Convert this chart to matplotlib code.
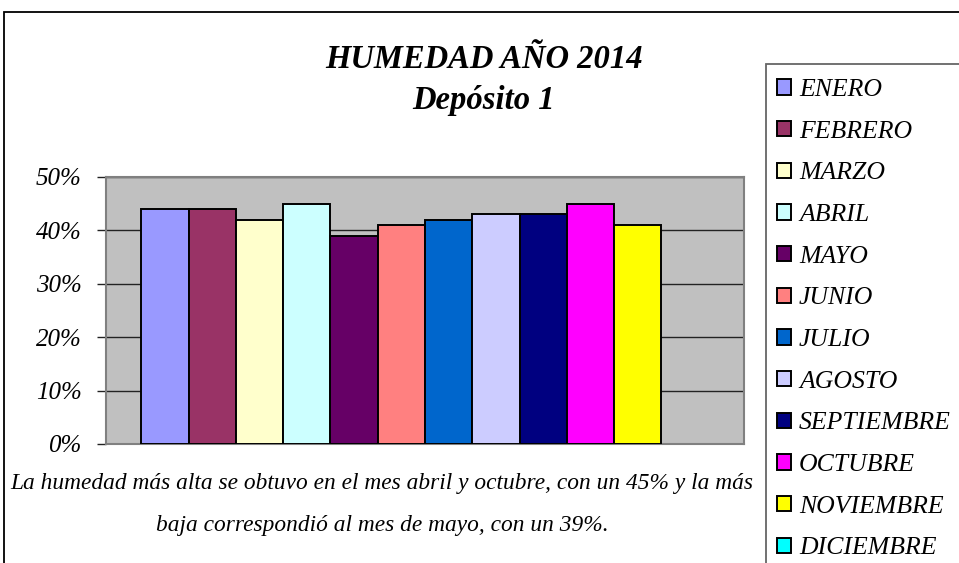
import matplotlib.pyplot as plt
from matplotlib.patches import Rectangle
import numpy as np

# datos
meses = ['ENERO', 'FEBRERO', 'MARZO', 'ABRIL', 'MAYO', 'JUNIO', 'JULIO',
         'AGOSTO', 'SEPTIEMBRE', 'OCTUBRE', 'NOVIEMBRE', 'DICIEMBRE']
humedad = [44, 44, 42, 45, 39, 41, 42, 43, 43, 45, 41, np.nan]
colores = ['#9999FF', '#993366', '#FFFFCC', '#CCFFFF', '#660066', '#FF8080',
           '#0066CC', '#CCCCFF', '#000080', '#FF00FF', '#FFFF00', '#00FFFF']
yticks = [0, 10, 20, 30, 40, 50]

serif = 'Liberation Serif'

fig = plt.figure(figsize=(9.59, 5.63), dpi=100)
ax = fig.add_axes([106 / 959, 1 - 444 / 563, 638 / 959, 267 / 563])

ax.set_facecolor('#C0C0C0')
handles = []
for i, (m, h, c) in enumerate(zip(meses, humedad, colores)):
    b = ax.bar(i, h, width=1.0, color=c, edgecolor='black', linewidth=1.4,
               label=m, zorder=3)
    handles.append(b)

ax.set_xlim(-1.245, 12.245)
ax.set_ylim(0, 50)
ax.set_yticks(yticks)
ax.set_yticklabels([f'{v}%' for v in yticks], fontfamily=serif,
                   fontstyle='italic', fontsize=18)
ax.set_xticks([])
ax.yaxis.grid(True, color='#222222', linewidth=1.0, zorder=1)
ax.set_axisbelow(True)
ax.tick_params(axis='y', direction='out', length=6.5, width=1, color='#222222', pad=11)
for s in ax.spines.values():
    s.set_color('#808080')
    s.set_linewidth(1.5)

# titulo
fig.text(484 / 959, 1 - 59 / 563, 'HUMEDAD AÑO 2014', ha='center', va='center',
         fontfamily=serif, fontweight='bold', fontstyle='italic', fontsize=23.5)
fig.text(484 / 959, 1 - 100 / 563, 'Depósito 1', ha='center', va='center',
         fontfamily=serif, fontweight='bold', fontstyle='italic', fontsize=23.5)

# comentario
fig.text(382 / 959, 1 - 484 / 563,
         'La humedad más alta se obtuvo en el mes abril y octubre, con un 45% y la más',
         ha='center', va='center', fontfamily=serif, fontstyle='italic', fontsize=16.8)
fig.text(382 / 959, 1 - 525 / 563,
         'baja correspondió al mes de mayo, con un 39%.',
         ha='center', va='center', fontfamily=serif, fontstyle='italic', fontsize=16.8)

# borde exterior y marco de la leyenda
fig.patches.append(Rectangle((4 / 959, -0.1), 1.1, 1.1 - 12 / 563,
                             transform=fig.transFigure, fill=False,
                             edgecolor='black', linewidth=1.3))
fig.patches.append(Rectangle((766 / 959, -0.1), 1.1, 0.1 + 1 - 64 / 563,
                             transform=fig.transFigure, fill=False,
                             edgecolor='#666666', linewidth=1.3))

leg = fig.legend(handles=handles, labels=meses, loc='upper left',
                 bbox_to_anchor=(772 / 959, 1 - 74 / 563), frameon=False,
                 prop={'family': serif, 'style': 'italic', 'size': 18.5},
                 handlelength=0.55, handleheight=0.55, handletextpad=0.3,
                 labelspacing=0.765, borderpad=0.2, borderaxespad=0)

fig.savefig('out.png', dpi=100)
